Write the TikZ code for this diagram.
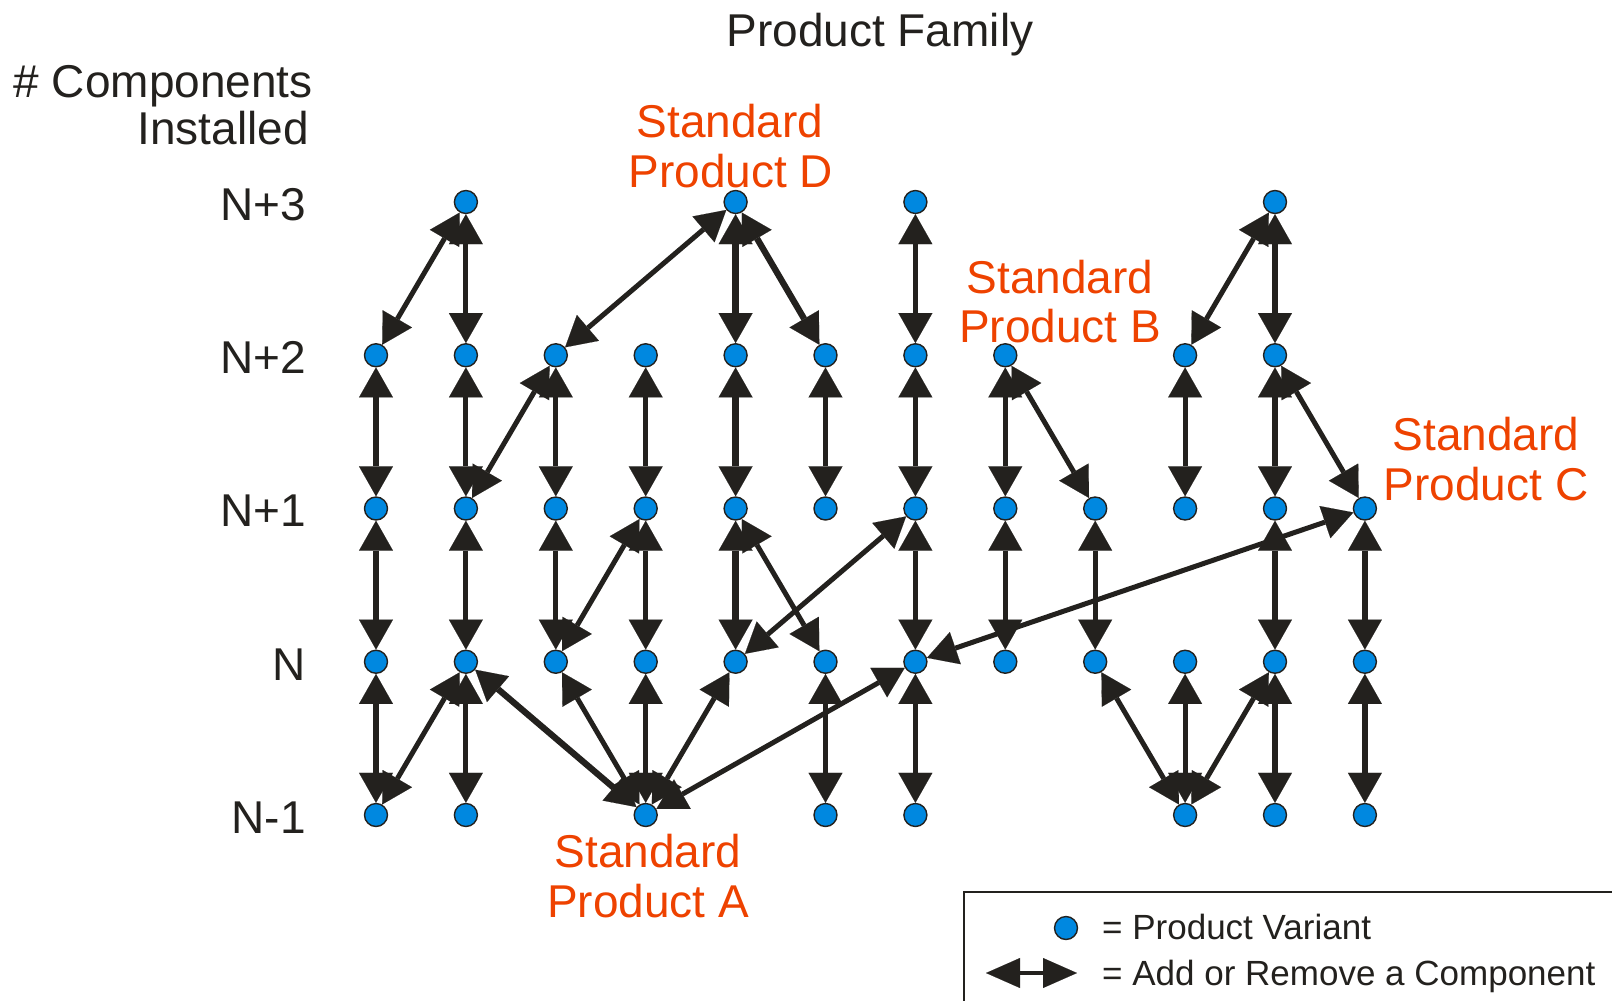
\documentclass[tikz,border=0pt]{standalone}
\usepackage{fontspec}
\setmainfont{Liberation Sans}
\usetikzlibrary{arrows.meta}
\definecolor{variantblue}{RGB}{0,136,224}
\definecolor{linkdark}{RGB}{35,33,30}
\definecolor{stdorange}{RGB}{238,66,0}

\begin{document}
\begin{tikzpicture}[x=1pt,y=-1pt,
  variant/.style={circle, draw=linkdark, line width=1.4pt, fill=variantblue,
    minimum size=23pt, inner sep=0pt},
  link/.style={draw=linkdark, line width=5pt,
    {Triangle[length=30pt,width=34pt,line width=0.1pt]}-{Triangle[length=30pt,width=34pt,line width=0.1pt]}},
  heavy/.style={link, line width=6.3pt},
  lbl/.style={inner sep=0pt, text=linkdark, font=\fontsize{46}{50}\selectfont},
  rowlbl/.style={lbl, anchor=base east},
  std/.style={lbl, text=stdorange, anchor=base},
  keytext/.style={inner sep=0pt, text=linkdark, anchor=base west,
    font=\fontsize{35}{38}\selectfont}
]
\useasboundingbox (0,0) rectangle (1612,1001);

% product variants: column / rows present (row 0 = N-1 ... row 4 = N+3)
\foreach \c/\rows in {1/{0,1,2,3}, 2/{0,1,2,3,4}, 3/{1,2,3}, 4/{0,1,2,3},
    5/{1,2,3,4}, 6/{0,1,2,3}, 7/{0,1,2,3,4}, 8/{1,2,3}, 9/{1,2},
    10/{0,1,2,3}, 11/{0,1,2,3,4}, 12/{0,1,2}}
  \foreach \r in \rows
    \node[variant] (c\c-\r) at ({376+89.9*(\c-1)}, {815-153.25*\r}) {};

% vertical add/remove steps
\foreach \c/\a/\b in {2/4/3, 2/3/2, 2/2/1, 2/1/0,
    3/3/2, 3/2/1, 4/3/2, 4/2/1, 4/1/0, 6/3/2, 6/1/0,
    7/4/3, 7/3/2, 7/2/1, 7/1/0, 8/3/2, 8/2/1, 9/2/1, 10/3/2, 10/1/0}
  \draw[link] (c\c-\a) -- (c\c-\b);
\foreach \c/\a/\b in {1/3/2, 1/2/1, 1/1/0, 5/4/3, 5/3/2, 5/2/1,
    11/4/3, 11/3/2, 11/2/1, 11/1/0, 12/2/1, 12/1/0}
  \draw[heavy] (c\c-\a) -- (c\c-\b);

% steps that change variant family
\draw[link] (c2-4) -- (c1-3);
\draw[link] (c5-4) -- (c3-3);
\draw[heavy] (c5-4) -- (c6-3);
\draw[link] (c3-3) -- (c2-2);
\draw[link] (c4-2) -- (c3-1);
\draw[link] (c5-2) -- (c6-1);
\draw[link] (c7-2) -- (c5-1);
\draw[link] (c2-1) -- (c1-0);
\draw[heavy] (c4-0) -- (c2-1);
\draw[link] (c4-0) -- (c3-1);
\draw[link] (c4-0) -- (c5-1);
\draw[link] (c4-0) -- (c7-1);
\draw[link] (c12-2) -- (c7-1);
\draw[link] (c8-3) -- (c9-2);
\draw[link] (c11-4) -- (c10-3);
\draw[link] (c11-3) -- (c12-2);
\draw[link] (c10-0) -- (c9-1);
\draw[link] (c10-0) -- (c11-1);

% titles and axis labels
\node[lbl, anchor=base] (title) at (880,46) {Product Family};
\node[lbl, anchor=base east] (axis1) at (313,97) {\# Components};
\node[lbl, anchor=base east] (axis2) at (309,144) {Installed};
\node[rowlbl] (lN3) at (306,220) {N+3};
\node[rowlbl] (lN2) at (306,373) {N+2};
\node[rowlbl] (lN1) at (306,526) {N+1};
\node[rowlbl] (lN0) at (306,680) {N};
\node[rowlbl] (lNm) at (306,833) {N-1};

% standard products
\node[std] (stdD1) at (730,137) {Standard};
\node[std] (stdD2) at (731,187) {Product D};
\node[std] (stdB1) at (1060,293) {Standard};
\node[std] (stdB2) at (1060,342) {Product B};
\node[std] (stdC1) at (1486,450) {Standard};
\node[std] (stdC2) at (1486,500) {Product C};
\node[std] (stdA1) at (648,867) {Standard};
\node[std] (stdA2) at (648,917) {Product A};

% key
\draw[linkdark, line width=1.4pt] (1612,892) -- (964,892) -- (964,1001);
\node[variant] (keyvar) at (1066,928) {};
\node[keytext] (keyvartxt) at (1102,939) {= Product Variant};
\coordinate (keyL) at (986,973);
\coordinate (keyR) at (1077,973);
\draw[draw=linkdark, line width=4pt,
  {Triangle[length=34pt,width=30pt,line width=0.1pt]}-{Triangle[length=34pt,width=30pt,line width=0.1pt]}]
  (keyL) -- (keyR);
\node[keytext] (keysteptxt) at (1102,985) {= Add or Remove a Component};
\end{tikzpicture}
\end{document}
